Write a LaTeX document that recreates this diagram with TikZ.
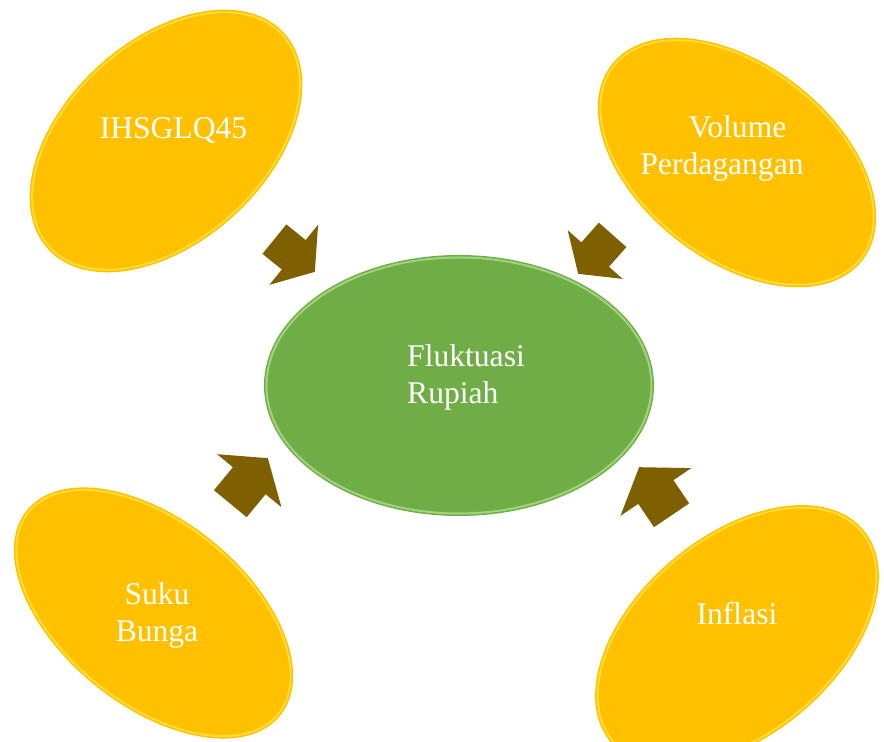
\documentclass[tikz,border=0pt]{standalone}
\usepackage{fontspec}
\setmainfont{Liberation Serif}
\usetikzlibrary{shapes.geometric,shapes.arrows}

\definecolor{gold}{HTML}{FFC000}
\definecolor{goldlight}{HTML}{FFDD33}
\definecolor{leaf}{HTML}{70AD47}
\definecolor{leaflight}{HTML}{A0D27F}
\definecolor{umber}{HTML}{7F6000}

\begin{document}
\begin{tikzpicture}[x=1pt,y=1pt,
	factor/.style={shape=ellipse,fill=gold,draw=gold,double=goldlight,double distance=2pt,line width=1.5pt,inner sep=0pt},
	target/.style={shape=ellipse,fill=leaf,draw=leaf,double=leaflight,double distance=2pt,line width=1.5pt,inner sep=0pt},
	push/.style={shape=single arrow,fill=umber,inner xsep=0pt,single arrow tip angle=110,anchor=tip},
	caption/.style={text=white,font=\fontsize{31.6pt}{37pt}\selectfont,inner sep=0pt}]
	\useasboundingbox (0,0) rectangle (884,742);
	% the five ellipses
	\path (166,601) node (ihsg) [factor,minimum width=315,minimum height=197,rotate=42.5] {}
		  (737,579.5) node (volume) [factor,minimum width=313,minimum height=191,rotate=-38] {}
		  (153.5,129) node (suku) [factor,minimum width=321,minimum height=181,rotate=-39] {}
		  (737,106) node (inflasi) [factor,minimum width=325,minimum height=195,rotate=40] {}
		  (459,356.5) node (rupiah) [target,minimum width=385,minimum height=256] {};
	% block arrows towards the centre
	\path (315,470) node (ihsg-push) [push,minimum height=52,inner ysep=18.75,single arrow head extend=19.8,rotate=-39] {}
		  (578,468) node (volume-push) [push,minimum height=52,inner ysep=18.2,single arrow head extend=18.3,rotate=-131.5] {}
		  (268,284) node (suku-push) [push,minimum height=59,inner ysep=21,single arrow head extend=20.5,rotate=50.5] {}
		  (639,275) node (inflasi-push) [push,minimum height=58,inner ysep=21,single arrow head extend=21.5,rotate=124] {};
	% labels (multi-line ones sit on their last baseline)
	\path (173.5,603) node (ihsg-text) [caption,anchor=base] {IHSGLQ45}
		  (722,567) node (volume-text) [caption,anchor=base,align=center] {\hspace*{31pt}Volume\\Perdagangan}
		  (407,338) node (rupiah-text) [caption,anchor=base west,align=left] {Fluktuasi\\Rupiah}
		  (157,100) node (suku-text) [caption,anchor=base,align=center] {Suku\\Bunga}
		  (737,117) node (inflasi-text) [caption,anchor=base] {Inflasi};
\end{tikzpicture}
\end{document}
